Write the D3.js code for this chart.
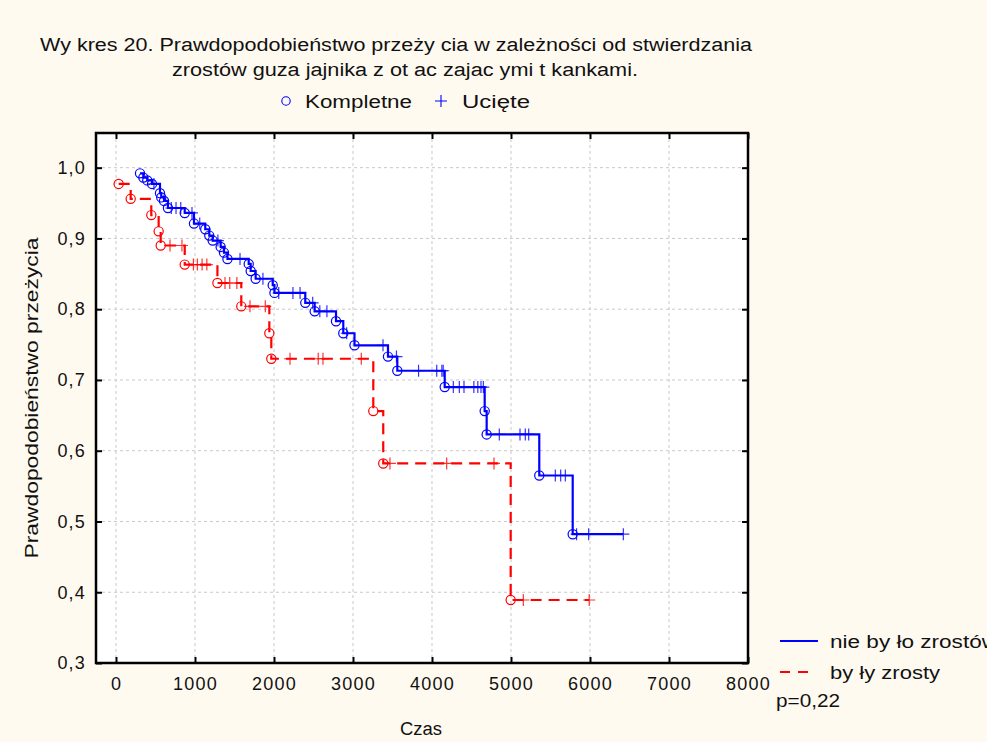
<!DOCTYPE html>
<html>
<head>
<meta charset="utf-8">
<script src="https://cdn.jsdelivr.net/npm/d3@7"></script>
<style>
    html, body { margin: 0; padding: 0; background: #fffaf0; }
    svg { display: block; font-family: "Liberation Sans", Arial, sans-serif; }
</style>
</head>
<body>
<div id="chart"></div>
<script>
// survival data: [time, survival] for events, times only for censored cases
const blueEvents = [
    [304, 0.992], [346, 0.986], [396, 0.982], [456, 0.977], [557, 0.964], [573, 0.958],
    [608, 0.953], [658, 0.943], [870, 0.936], [987, 0.921], [1130, 0.913], [1181, 0.904],
    [1224, 0.897], [1325, 0.888], [1367, 0.880], [1411, 0.871], [1680, 0.864], [1705, 0.854],
    [1768, 0.843], [1984, 0.834], [2006, 0.823], [2396, 0.809], [2515, 0.797], [2785, 0.783],
    [2877, 0.766], [3019, 0.749], [3443, 0.733], [3561, 0.713], [4161, 0.690], [4667, 0.656],
    [4692, 0.623], [5358, 0.565], [5781, 0.482]
];
const blueCensored = [
    480, 700, 760, 820, 962, 1060, 1290, 1570, 1860, 2060, 2240, 2330, 2490, 2580, 2670,
    2920, 3380, 3550, 3830, 4060, 4125, 4142, 4270, 4346, 4405, 4530, 4580, 4620, 4650,
    4852, 5114, 5181, 5224, 5561, 5629, 5688, 5830, 5983, 6422
];
const redEvents = [
    [34, 0.977], [186, 0.956], [447, 0.933], [540, 0.910], [566, 0.890], [870, 0.863],
    [1284, 0.837], [1586, 0.804], [1941, 0.766], [1966, 0.730], [3257, 0.656], [3383, 0.582],
    [4996, 0.389]
];
const redCensored = [
    684, 835, 980, 1030, 1090, 1150, 1380, 1440, 1530, 1696, 1890, 2203, 2560, 2620, 3105,
    3468, 4186, 4785, 5156, 5990
];
const xTicks = [0, 1000, 2000, 3000, 4000, 5000, 6000, 7000, 8000];
const yTicks = [0.3, 0.4, 0.5, 0.6, 0.7, 0.8, 0.9, 1.0];
const seriesNames = ['nie by ło zrostów', 'by ły  zrosty'];
const seriesColors = ['#0000ff', '#ff0000'];

const width = 987, height = 742;
const plot = { left: 96, right: 748, top: 133, bottom: 663 };

const svg = d3.select('#chart').append('svg')
    .attr('width', width)
    .attr('height', height);

svg.append('rect').attr('width', width).attr('height', height).attr('fill', '#fffaf0');

const x = d3.scaleLinear().domain([-253, 8000]).range([plot.left, plot.right]);
const y = d3.scaleLinear().domain([0.3, 1.049]).range([plot.bottom, plot.top]);

svg.append('rect')
    .attr('x', plot.left).attr('y', plot.top)
    .attr('width', plot.right - plot.left).attr('height', plot.bottom - plot.top)
    .attr('fill', '#ffffff');

// grid
const grid = svg.append('g').attr('stroke', '#c8c8c8').attr('stroke-dasharray', '3,3').attr('stroke-width', 1);
grid.selectAll('.gx').data(xTicks.filter(d => d < 8000)).join('line')
    .attr('x1', d => x(d)).attr('x2', d => x(d))
    .attr('y1', plot.top).attr('y2', plot.bottom);
grid.selectAll('.gy').data(yTicks.filter(d => d > 0.3)).join('line')
    .attr('x1', plot.left).attr('x2', plot.right)
    .attr('y1', d => y(d)).attr('y2', d => y(d));

// axes with inward ticks on all four sides
const fmt = d => d3.format('.1f')(d).replace('.', ',');
const axB = svg.append('g').attr('transform', `translate(0,${plot.bottom})`)
    .call(d3.axisBottom(x).tickValues(xTicks).tickSize(-6).tickPadding(14).tickFormat(d3.format('d')));
const axT = svg.append('g').attr('transform', `translate(0,${plot.top})`)
    .call(d3.axisTop(x).tickValues(xTicks).tickSize(-6).tickFormat(''));
const axL = svg.append('g').attr('transform', `translate(${plot.left},0)`)
    .call(d3.axisLeft(y).tickValues(yTicks).tickSize(-6).tickPadding(10).tickFormat(fmt));
const axR = svg.append('g').attr('transform', `translate(${plot.right},0)`)
    .call(d3.axisRight(y).tickValues(yTicks).tickSize(-6).tickFormat(''));
[axB, axT, axL, axR].forEach(a => {
    a.select('.domain').remove();
    a.selectAll('.tick line').attr('stroke', '#000').attr('stroke-width', 2);
    a.selectAll('text').attr('fill', '#111').attr('font-size', 18).attr('letter-spacing', 1.2)
        .attr('font-family', '"Liberation Sans", Arial, sans-serif');
});

svg.append('rect')
    .attr('x', plot.left).attr('y', plot.top)
    .attr('width', plot.right - plot.left).attr('height', plot.bottom - plot.top)
    .attr('fill', 'none').attr('stroke', '#000').attr('stroke-width', 2.5);

// km curves
function levelAt(events, t) {
    let s = 1;
    events.forEach(e => { if (e[0] <= t) s = e[1]; });
    return s;
}
function buildSeries(events, censored) {
    const pts = events.map(e => ({ t: e[0], s: e[1], kind: 'event' }))
        .concat(censored.map(t => ({ t: t, s: levelAt(events, t), kind: 'censor' })));
    return pts.sort((a, b) => a.t - b.t);
}
const series = [buildSeries(blueEvents, blueCensored), buildSeries(redEvents, redCensored)];

const line = d3.line().x(d => x(d.t)).y(d => y(d.s)).curve(d3.curveStepAfter);

series.forEach((pts, i) => {
    const color = seriesColors[i];
    svg.append('path')
        .datum(pts)
        .attr('d', line)
        .attr('fill', 'none')
        .attr('stroke', color)
        .attr('stroke-width', 2.2)
        .attr('stroke-dasharray', i === 1 ? '11,7' : null);
    svg.append('g').selectAll('circle').data(pts.filter(d => d.kind === 'event')).join('circle')
        .attr('cx', d => x(d.t)).attr('cy', d => y(d.s)).attr('r', 4.6)
        .attr('fill', 'none').attr('stroke', color).attr('stroke-width', 1.2);
    svg.append('g').selectAll('path').data(pts.filter(d => d.kind === 'censor')).join('path')
        .attr('d', d => `M${x(d.t) - 6},${y(d.s)}h12M${x(d.t)},${y(d.s) - 6}v12`)
        .attr('stroke', color).attr('stroke-width', 1.2).attr('opacity', 0.8);
});

// titles and labels
const text = (tx, ty, str, size, len, anchor) => svg.append('text')
    .attr('x', tx).attr('y', ty).attr('font-size', size).attr('fill', '#111')
    .attr('text-anchor', anchor || 'start')
    .attr('textLength', len || null).attr('lengthAdjust', len ? 'spacingAndGlyphs' : null)
    .text(str);

text(40, 51, 'Wy kres 20. Prawdopodobieństwo przeży cia w zależności od stwierdzania', 18, 712);
text(172, 76, 'zrostów guza jajnika z ot ac zajac ymi t kankami.', 18, 466);

svg.append('circle').attr('cx', 286).attr('cy', 101).attr('r', 4.2)
    .attr('fill', 'none').attr('stroke', '#0000ff').attr('stroke-width', 1.1);
text(305, 108, 'Kompletne', 18, 107);
svg.append('path').attr('d', 'M435,101h12M441,95v12').attr('stroke', '#0000ff').attr('stroke-width', 1.1);
text(462, 108, 'Ucięte', 18, 68);

svg.append('text')
    .attr('transform', 'translate(38,398) rotate(-90)')
    .attr('text-anchor', 'middle').attr('font-size', 18).attr('fill', '#111')
    .attr('textLength', 321).attr('lengthAdjust', 'spacingAndGlyphs')
    .text('Prawdopodobieństwo przeżycia');
text(421, 735, 'Czas', 18, 42, 'middle');

// series legend
const legendLens = [168, 110];
seriesNames.forEach((name, i) => {
    const ly = 641 + i * 31;
    svg.append('line').attr('x1', 780).attr('x2', i === 1 ? 810 : 818)
        .attr('y1', ly).attr('y2', ly)
        .attr('stroke', seriesColors[i]).attr('stroke-width', 2.2)
        .attr('stroke-dasharray', i === 1 ? '10,8' : null);
    text(830, ly + 7, name, 18, legendLens[i]);
});
text(776, 707, 'p=0,22', 18, 64);
</script>
</body>
</html>
